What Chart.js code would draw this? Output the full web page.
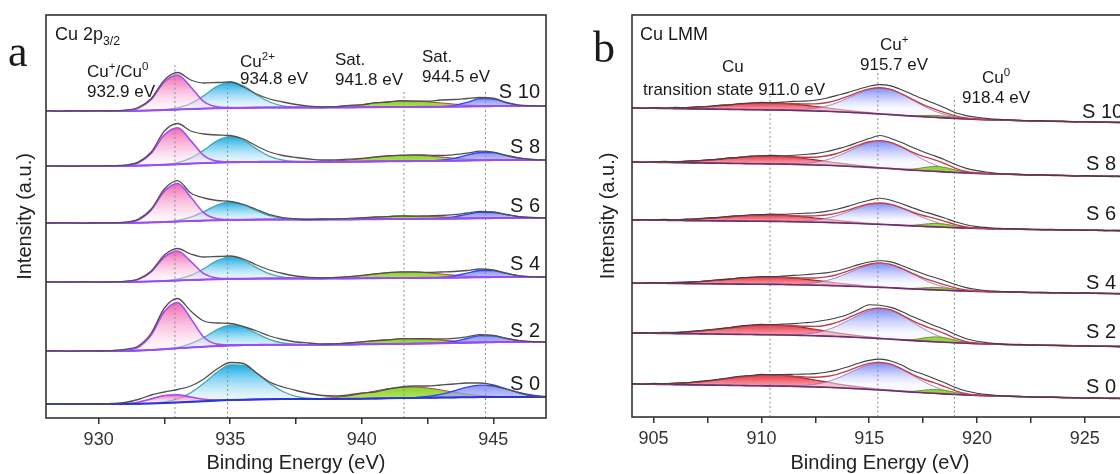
<!DOCTYPE html>
<html>
<head>
<meta charset="utf-8">
<script src="https://cdn.jsdelivr.net/npm/chart.js@4.4.1/dist/chart.umd.min.js"></script>
<style>
  html, body { margin: 0; padding: 0; background: #fff; overflow: hidden; width: 1120px; height: 474px; }
  #chartA { position: absolute; left: 0; top: 0; }
  #chartB { position: absolute; left: 560px; top: 0; }
</style>
</head>
<body>
<canvas id="chartA" width="560" height="474"></canvas>
<canvas id="chartB" width="580" height="474"></canvas>
<script>
// ---------- shared ----------
const samples = ['S 10', 'S 8', 'S 6', 'S 4', 'S 2', 'S 0'];

// ---------- panel a : Cu 2p3/2 ----------
const energyA = [928,928.5,929,929.5,930,930.5,931,931.5,932,932.5,933,933.5,934,934.5,935,935.5,936,936.5,937,937.5,938,938.5,939,939.5,940,940.5,941,941.5,942,942.5,943,943.5,944,944.5,945,945.5,946,946.5,947];
const tickValuesA = [930, 932.5, 935, 937.5, 940, 942.5, 945];
const offsetsA = [307, 252, 195, 136, 67, 14];
const markersA = [932.9, 934.9, 941.6, 944.7];
const markerTopsA = [355, 335, 328, 327];

const rawA_S10 = [0.3,-0.2,0.2,0,0.3,0.2,0.8,3.5,12.5,31,38.5,31,28,28.5,29,24,17,12,9,6.5,4.8,4.2,4.3,5.6,6.2,8.3,9,10.4,9.8,9.8,11,11.5,12.5,13.5,12.8,8.6,5.8,5.3,4.8];
const rawA_S8 = [0.2,0,-0.3,0.2,0.1,0.3,0.9,3.8,14,35,42.5,35,32,31,30.5,27,20,14,10.5,8.5,7,6,6.2,6.8,7.6,9.1,10.3,10.8,11.2,10.9,10.5,11.3,12.8,14.8,13.9,10.5,7.8,6.4,5.9];
const rawA_S6 = [-0.1,0.2,0.1,-0.2,0.2,0.1,0.8,3.6,14,34,42.3,30,25,22.5,21.5,18.5,13.5,8.3,5.4,4.2,3.4,4,3.8,4.7,5,6,6.4,7.2,6.8,7.2,7.5,8.4,10,11.6,11,8.4,6.2,5.5,4.9];
const rawA_S4 = [0.2,-0.1,0.1,0.3,-0.2,0.1,0.6,3,11,27,33.5,28,25,25.5,26,23,17,12,8.5,6,4.6,4.2,4.6,5.4,6.6,8.2,9.4,10.1,10.1,9.6,10,10.5,11.5,13,12,8.8,6.1,5.3,4.9];
const rawA_S2 = [0.3,0.1,-0.2,0.2,0,0.4,1.6,5,18,43,52.5,40,30,28,27.5,24.5,20,15,11.5,9,8,7,7.2,8,9.2,10.4,11.1,12.4,12.2,12.3,12,12.6,14.2,16.3,15.6,12.5,10.3,9.3,9.1];
const rawA_S0 = [0.3,-0.2,0.4,0,0.2,0.5,1.5,4.5,9,12,14.5,18,25,35,41.5,40.5,31,22,17,13.5,10.5,8.5,8,9,11,12,15,17,18,18,19,20,21,21,19,15,11,8,7];

const bgA_S10 = [0,0,0,0,0,0,0.1,0.3,0.6,1,1.5,2,2.4,2.8,3.1,3.3,3.4,3.5,3.5,3.5,3.5,3.5,3.6,3.6,3.7,3.8,3.9,4,4.1,4.2,4.3,4.4,4.6,4.8,4.9,5,5,5,5];
const bgA_S8 = [0,0,0,0,0,0,0.1,0.4,0.7,1.2,1.8,2.4,2.9,3.4,3.7,4,4.1,4.2,4.2,4.2,4.2,4.2,4.3,4.3,4.4,4.6,4.7,4.8,4.9,5,5.2,5.3,5.5,5.8,5.9,6,6,6,6];
const bgA_S6 = [0,0,0,0,0,0,0.1,0.3,0.6,1,1.5,2,2.4,2.8,3.1,3.3,3.4,3.5,3.5,3.5,3.5,3.5,3.6,3.6,3.7,3.8,3.9,4,4.1,4.2,4.3,4.4,4.6,4.8,4.9,5,5,5,5];
const bgA_S4 = [0,0,0,0,0,0,0.1,0.3,0.6,1,1.5,2,2.4,2.8,3.1,3.3,3.4,3.5,3.5,3.5,3.5,3.5,3.6,3.6,3.7,3.8,3.9,4,4.1,4.2,4.3,4.4,4.6,4.8,4.9,5,5,5,5];
const bgA_S2 = [0,0,0,0,0,0,0.2,0.5,1.1,1.8,2.7,3.6,4.3,5,5.6,5.9,6.1,6.3,6.3,6.3,6.3,6.3,6.5,6.5,6.7,6.8,7,7.2,7.4,7.6,7.7,7.9,8.3,8.6,8.8,9,9,9,9];
const bgA_S0 = [0,0,0,0,0,0,0.1,0.3,0.6,1,1.6,2.2,2.8,3.4,3.9,4.3,4.6,4.8,4.9,4.9,5,5,5.1,5.2,5.3,5.5,5.7,5.9,6.1,6.3,6.5,6.6,6.8,6.9,7,7,7,7,7];

// fitted components, heights above background, starting at the given energy
const pinkStartA = 930.5;
const pinkA_S10 = [0,0.4,2.5,11,28,34.5,22,7,1.4,0.4,0];
const pinkA_S8 = [0,0.4,2.6,12,30,36.5,23,7.4,1.5,0.4,0];
const pinkA_S6 = [0,0.4,2.7,12.4,30.8,38,24,7.7,1.5,0.4,0];
const pinkA_S4 = [0,0.3,2.1,9.6,24,29.5,18.6,6,1.2,0.3,0];
const pinkA_S2 = [0,0.5,3.3,15,37.6,45.8,29,9.4,1.9,0.5,0];
const pinkA_S0 = [0,0.3,1.5,4.5,7.5,7.6,4.8,2,0.6,0.1,0];

const cyanStartA = 932;
const cyanA_S10 = [0.05,0.35,1.6,5.5,13,21.8,26,21.8,13,5.5,1.6,0.35,0.05,0,0];
const cyanA_S8 = [0.05,0.35,1.6,5.5,13,21.8,26,21.8,13,5.5,1.6,0.35,0.05,0,0];
const cyanA_S6 = [0,0.25,1.1,3.8,9,15.1,18,15.1,9,3.8,1.1,0.25,0,0,0];
const cyanA_S4 = [0,0.3,1.4,4.6,11,18.5,22,18.5,11,4.6,1.4,0.3,0,0,0];
const cyanA_S2 = [0,0.2,1,3.7,9.3,16.3,20.3,18.2,11.6,5.1,1.7,0.4,0.05,0,0];
const cyanA_S0 = [0.25,1.1,3.5,9,18,28.4,35.3,34.5,26.5,15.8,7.6,2.8,0.8,0.2,0];

const greenStartA = 938;
const greenA_S10 = [0.15,0.4,0.8,1.6,2.7,4.1,5.3,5.9,5.9,5,3.8,2.5,1.4,0.7,0.3,0.1];
const greenA_S8 = [0.15,0.4,0.8,1.6,2.8,4.1,5.2,5.9,5.9,5.1,3.8,2.5,1.4,0.7,0.3,0.1];
const greenA_S6 = [0.1,0.2,0.4,0.8,1.4,2,2.6,3,2.9,2.5,1.9,1.2,0.7,0.4,0.2,0];
const greenA_S4 = [0.15,0.4,0.8,1.6,2.7,4.1,5.3,5.9,5.9,5,3.8,2.5,1.4,0.7,0.3,0.1];
const greenA_S2 = [0.1,0.3,0.7,1.4,2.3,3.4,4.4,4.9,4.9,4.2,3.2,2.1,1.2,0.6,0.3,0.1];
const greenA_S0 = [0.2,0.6,1.4,2.9,5,7.4,9.6,10.8,10.9,9.7,7.6,5.2,3.1,1.6,0.7,0.3];

const blueStartA = 942;
const blueA_S10 = [0,0,0.1,1,4,7.5,7.1,3.2,0.7,0.1,0];
const blueA_S8 = [0,0.1,0.7,2.3,5.3,7.7,7.4,4.6,1.9,0.5,0.1];
const blueA_S6 = [0,0.1,0.5,1.7,4,5.8,5.6,3.5,1.4,0.4,0];
const blueA_S4 = [0,0,0.3,1.6,4.2,6.7,6.4,3.6,1.2,0.2,0];
const blueA_S2 = [0,0,0.3,1.6,4.2,6.7,6.4,3.6,1.2,0.2,0];
const blueA_S0 = [0.3,1.2,3.1,6.4,10,12,11,7.8,4.3,1.8,0.6];

// ---------- panel b : Cu LMM ----------
const energyB = [904,904.5,905,905.5,906,906.5,907,907.5,908,908.5,909,909.5,910,910.5,911,911.5,912,912.5,913,913.5,914,914.5,915,915.5,916,916.5,917,917.5,918,918.5,919,919.5,920,920.5,921,921.5,922,922.5,923,923.5,924,924.5,925,925.5,926,926.5,927,927.5,928];
const tickValuesB = [905, 907.5, 910, 912.5, 915, 917.5, 920, 922.5, 925];
const offsetsB = [309, 255, 197, 134, 84, 33];
const markersB = [910.4, 915.4, 918.95];
const markerTopsB = [322, 345, 320];

const rawB_S10 = [0.3,-0.4,0.4,-0.2,0.6,0.3,1.2,1.3,2.8,3,4.5,4.9,5.6,5.3,5.9,6.6,6.9,7.8,9.8,12.6,15.4,18.8,21.8,23.4,22.1,18.3,13.5,8.9,4.8,0.2,-4.8,-7.6,-9.3,-10.6,-11.4,-11.9,-12.2,-12.8,-12.6,-13.4,-13.1,-13.9,-13.5,-14.3,-14,-14.6,-14.3,-15.1,-14.8];
const rawB_S8 = [0.4,-0.5,0.3,0.6,0.1,0.9,1.3,2.2,2.7,4.1,4.6,5.9,6.3,6.6,6.2,6.8,7.5,8.4,10.3,13,16,19.8,23.5,26.5,23.6,19.4,14.8,10.2,6.4,2.3,-2.6,-6.4,-8.6,-10.2,-11.5,-12.1,-12.2,-13,-12.8,-13.6,-13.3,-14.1,-13.6,-14.2,-14.4,-14.3,-14.9,-14.7,-15.2];
const rawB_S6 = [-0.2,0.5,0.1,0.6,0.2,0.9,1.1,2.1,2.6,3.8,4.3,5.2,5.4,5.9,5.6,6.2,6.7,7.3,8.6,10.8,13.6,17,19.8,21.7,19.8,16.2,12.3,8.6,5.4,1.9,-1.8,-4.8,-6.6,-7.6,-8.4,-8.6,-9.1,-9.2,-9.8,-9.4,-10,-9.8,-10.4,-10.1,-10.6,-10.4,-10.9,-10.7,-11.1];
const rawB_S4 = [0.3,-0.3,0.5,0.1,0.8,0.6,1.5,2.1,3.3,3.9,5.2,5.6,6.5,6.4,6.9,7.6,8.3,9.2,10.1,12,15,18.4,21,22.3,21.1,17.6,13.2,9.3,5.7,2.3,-1.6,-4.6,-6.5,-7.8,-8.3,-8.9,-8.8,-9.6,-9.3,-9.9,-9.6,-10.2,-9.9,-10.5,-10.3,-10.8,-10.5,-11.1,-10.9];
const rawB_S2 = [-0.3,0.4,0.2,0.7,0.4,1.3,2.1,3.2,4.3,5.3,6.9,7.8,8.6,8.5,8.9,9.4,10.2,11.2,13,15.3,18.6,23.4,28.3,27.7,25.6,21.6,16.4,12,7.6,3.4,-1.6,-5.7,-8.3,-9.8,-10.9,-11.6,-11.4,-12.1,-12.3,-12.7,-12.4,-13,-12.8,-13.5,-13.2,-13.9,-13.5,-14,-14.2];
const rawB_S0 = [0.4,-0.3,0.6,0.3,1,1.4,2.5,3.4,4.8,6.2,7.8,8.5,9.6,9.4,9.5,9.7,9.9,10.4,11.8,13.9,17.1,20.8,23.6,24.9,23,18.9,13.5,9.8,5.6,1.2,-3.5,-7,-9.2,-10.6,-11.5,-12.4,-12.3,-13,-13.4,-13.1,-13.9,-13.6,-14.2,-13.9,-14.5,-14.3,-14.8,-14.6,-15.2];

const bgB_S10 = [0,-0.2,-0.3,-0.5,-0.6,-0.8,-0.9,-1.1,-1.2,-1.4,-1.5,-1.7,-1.8,-2,-2.1,-2.4,-2.7,-3,-3.3,-3.8,-4.2,-4.8,-5.4,-6,-6.6,-7.4,-8.1,-8.7,-9.3,-9.9,-10.5,-11,-11.4,-11.7,-12,-12.3,-12.6,-12.9,-13.1,-13.2,-13.5,-13.7,-13.8,-14.1,-14.3,-14.4,-14.6,-14.9,-15];
const bgB_S8 = [0,-0.2,-0.3,-0.5,-0.6,-0.8,-0.9,-1.1,-1.2,-1.4,-1.5,-1.7,-1.8,-2,-2.1,-2.4,-2.7,-3,-3.3,-3.8,-4.2,-4.8,-5.4,-6,-6.6,-7.4,-8.1,-8.7,-9.3,-9.9,-10.5,-11,-11.4,-11.7,-12,-12.3,-12.6,-12.9,-13.1,-13.2,-13.5,-13.7,-13.8,-14.1,-14.3,-14.4,-14.6,-14.9,-15];
const bgB_S6 = [0,-0.1,-0.2,-0.3,-0.4,-0.6,-0.7,-0.8,-0.9,-1,-1.1,-1.2,-1.3,-1.4,-1.5,-1.8,-2,-2.2,-2.4,-2.8,-3.1,-3.5,-4,-4.4,-4.8,-5.4,-5.9,-6.4,-6.8,-7.3,-7.7,-8,-8.4,-8.6,-8.8,-9,-9.2,-9.5,-9.6,-9.7,-9.9,-10,-10.1,-10.3,-10.5,-10.6,-10.7,-10.9,-11];
const bgB_S4 = [0,-0.1,-0.2,-0.3,-0.4,-0.6,-0.7,-0.8,-0.9,-1,-1.1,-1.2,-1.3,-1.4,-1.5,-1.8,-2,-2.2,-2.4,-2.8,-3.1,-3.5,-4,-4.4,-4.8,-5.4,-5.9,-6.4,-6.8,-7.3,-7.7,-8,-8.4,-8.6,-8.8,-9,-9.2,-9.5,-9.6,-9.7,-9.9,-10,-10.1,-10.3,-10.5,-10.6,-10.7,-10.9,-11];
const bgB_S2 = [0,-0.1,-0.3,-0.4,-0.6,-0.7,-0.8,-1,-1.1,-1.3,-1.4,-1.5,-1.7,-1.8,-2,-2.2,-2.5,-2.8,-3.1,-3.5,-3.9,-4.5,-5,-5.6,-6.2,-6.9,-7.6,-8.1,-8.7,-9.2,-9.8,-10.2,-10.6,-10.9,-11.2,-11.5,-11.8,-12,-12.2,-12.3,-12.6,-12.7,-12.9,-13.2,-13.3,-13.4,-13.6,-13.9,-14];
const bgB_S0 = [0,-0.2,-0.3,-0.5,-0.6,-0.8,-0.9,-1.1,-1.2,-1.4,-1.5,-1.7,-1.8,-2,-2.1,-2.4,-2.7,-3,-3.3,-3.8,-4.2,-4.8,-5.4,-6,-6.6,-7.4,-8.1,-8.7,-9.3,-9.9,-10.5,-11,-11.4,-11.7,-12,-12.3,-12.6,-12.9,-13.1,-13.2,-13.5,-13.7,-13.8,-14.1,-14.3,-14.4,-14.6,-14.9,-15];

const redStartB = 904;
const redB_S10 = [0.1,0.1,0.2,0.4,0.7,1.2,1.8,2.6,3.5,4.5,5.5,6.3,6.8,7,6.8,6.3,5.5,4.5,3.5,2.6,1.8,1.2,0.7,0.4,0.2,0.1,0.1,0,0];
const redB_S8 = [0.1,0.1,0.3,0.5,0.8,1.4,2.1,2.9,4,5.1,6.2,7.2,7.8,8,7.8,7.2,6.2,5.1,4,2.9,2.1,1.4,0.8,0.5,0.3,0.1,0.1,0,0];
const redB_S6 = [0.1,0.1,0.2,0.4,0.7,1.1,1.7,2.4,3.3,4.2,5.1,5.8,6.3,6.5,6.3,5.8,5.1,4.2,3.3,2.4,1.7,1.1,0.7,0.4,0.2,0.1,0.1,0,0];
const redB_S4 = [0.1,0.1,0.3,0.5,0.8,1.3,1.9,2.8,3.8,4.8,5.9,6.7,7.3,7.5,7.3,6.7,5.9,4.8,3.8,2.8,1.9,1.3,0.8,0.5,0.3,0.1,0.1,0,0];
const redB_S2 = [0.1,0.2,0.4,0.6,1.1,1.7,2.6,3.7,5,6.4,7.8,9,9.7,10,9.7,9,7.8,6.4,5,3.7,2.6,1.7,1.1,0.6,0.4,0.2,0.1,0,0];
const redB_S0 = [0.1,0.2,0.4,0.7,1.2,1.9,2.8,4,5.5,7,8.6,9.8,10.7,11,10.7,9.8,8.6,7,5.5,4,2.8,1.9,1.2,0.7,0.4,0.2,0.1,0,0];

const blueStartB = 911.5;
const blueB_S10 = [0.5,1.2,2.6,5.1,9,14,19.4,23.8,25.9,25,21.4,16.3,10.9,6.5,3.5,1.6,0.7,0.3,0.1];
const blueB_S8 = [0.5,1.2,2.7,5.3,9.4,14.6,20.2,24.8,26.9,26,22.2,16.9,11.3,6.8,3.6,1.7,0.7,0.3,0.1];
const blueB_S6 = [0.4,0.9,2.1,4.1,7.3,11.3,15.7,19.3,21,20.2,17.3,13.1,8.8,5.3,2.8,1.3,0.5,0.2,0.1];
const blueB_S4 = [0.4,1.1,2.4,4.7,8.3,13,18,22,24,23.1,19.8,15,10.1,6,3.2,1.5,0.6,0.2,0.1];
const blueB_S2 = [0.5,1.4,3,5.9,10.4,16.2,22.4,27.5,29.9,28.9,24.7,18.8,12.6,7.5,4,1.9,0.8,0.3,0.1];
const blueB_S0 = [0.5,1.2,2.7,5.3,9.4,14.6,20.2,24.8,26.9,26,22.2,16.9,11.3,6.8,3.6,1.7,0.7,0.3,0.1];

const greenStartB = 916;
const greenB_S10 = [0,0.1,0.4,1.2,1.9,1.8,1,0.3,0.1,0];
const greenB_S8 = [0,0.2,1,3,4.8,4.6,2.5,0.8,0.2,0];
const greenB_S6 = [0,0.2,0.7,2.1,3.4,3.2,1.8,0.6,0.1,0];
const greenB_S4 = [0,0.1,0.5,1.5,2.4,2.3,1.3,0.4,0.1,0];
const greenB_S2 = [0,0.2,1,3,4.8,4.6,2.5,0.8,0.2,0];
const greenB_S0 = [0,0.2,0.8,2.4,3.8,3.6,2,0.6,0.1,0];

const rawA = [rawA_S10, rawA_S8, rawA_S6, rawA_S4, rawA_S2, rawA_S0];
const bgA = [bgA_S10, bgA_S8, bgA_S6, bgA_S4, bgA_S2, bgA_S0];
const pinkA = [pinkA_S10, pinkA_S8, pinkA_S6, pinkA_S4, pinkA_S2, pinkA_S0];
const cyanA = [cyanA_S10, cyanA_S8, cyanA_S6, cyanA_S4, cyanA_S2, cyanA_S0];
const greenA = [greenA_S10, greenA_S8, greenA_S6, greenA_S4, greenA_S2, greenA_S0];
const blueA = [blueA_S10, blueA_S8, blueA_S6, blueA_S4, blueA_S2, blueA_S0];

const rawB = [rawB_S10, rawB_S8, rawB_S6, rawB_S4, rawB_S2, rawB_S0];
const bgB = [bgB_S10, bgB_S8, bgB_S6, bgB_S4, bgB_S2, bgB_S0];
const redB = [redB_S10, redB_S8, redB_S6, redB_S4, redB_S2, redB_S0];
const blueB = [blueB_S10, blueB_S8, blueB_S6, blueB_S4, blueB_S2, blueB_S0];
const greenB = [greenB_S10, greenB_S8, greenB_S6, greenB_S4, greenB_S2, greenB_S0];

// ---------- helpers ----------
const FONT = '"Liberation Sans", Arial, sans-serif';

function pad(values, grid, start) {
    const i0 = grid.indexOf(start);
    return grid.map((e, i) => (i >= i0 && i < i0 + values.length) ? values[i - i0] : 0);
}

function pts(grid, off, ...layers) {
    return grid.map((e, i) => ({ x: e, y: off + layers.reduce((s, l) => s + l[i], 0) }));
}

function vGrad(topColor, bottomColor) {
    return (c) => {
        const chart = c.chart;
        if (!chart.chartArea || !c.dataset || !chart.scales.y) return topColor;
        const y = chart.scales.y;
        const peak = Math.max(...c.dataset.data.map(p => p.y));
        const top = y.getPixelForValue(peak);
        const bottom = y.getPixelForValue(c.dataset.base);
        if (!(bottom > top + 1)) return topColor;
        const g = chart.ctx.createLinearGradient(0, top, 0, bottom);
        g.addColorStop(0, topColor);
        g.addColorStop(1, bottomColor);
        return g;
    };
}

function component(grid, off, bg, comp, baseIdx, topColor, bottomColor, lineColor, lineWidth, order) {
    return {
        data: pts(grid, off, bg, comp),
        base: off,
        fill: baseIdx,
        backgroundColor: vGrad(topColor, bottomColor),
        borderColor: lineColor,
        borderWidth: lineWidth,
        order: order
    };
}

function markerSet(e, top) {
    return {
        data: [{ x: e, y: 0 }, { x: e, y: top }],
        borderColor: '#8a8a8a',
        borderWidth: 1,
        borderDash: [2, 2.5],
        cubicInterpolationMode: 'default',
        tension: 0,
        order: 3
    };
}

function drawRich(ctx, x, y, parts, size, align) {
    const segs = parts.map(p => typeof p === 'string' ? { t: p, k: '' } : p);
    const fontOf = k => (k ? size * 0.68 : size) + 'px ' + FONT;
    let w = 0;
    segs.forEach(s => { ctx.font = fontOf(s.k); w += ctx.measureText(s.t).width; });
    let cx = align === 'right' ? x - w : (align === 'center' ? x - w / 2 : x);
    segs.forEach(s => {
        ctx.font = fontOf(s.k);
        const dy = s.k === 'sup' ? -size * 0.42 : (s.k === 'sub' ? size * 0.3 : 0);
        ctx.fillText(s.t, cx, y + dy);
        cx += ctx.measureText(s.t).width;
    });
}

function textPlugin(letter, items) {
    return {
        id: 'texts',
        afterDraw(chart) {
            const ctx = chart.ctx;
            ctx.save();
            ctx.fillStyle = '#1a1a1a';
            ctx.textBaseline = 'alphabetic';
            ctx.textAlign = 'left';
            ctx.font = '44px "Liberation Serif", "Times New Roman", serif';
            ctx.fillText(letter.t, letter.x, letter.y);
            items.forEach(it => drawRich(ctx, it.x, it.y, it.parts, it.size, it.align));
            ctx.restore();
        }
    };
}

const framePlugin = {
    id: 'frame',
    afterDraw(chart) {
        const { ctx, chartArea: a } = chart;
        ctx.save();
        ctx.strokeStyle = '#333';
        ctx.lineWidth = 1.6;
        ctx.strokeRect(a.left, a.top, a.right - a.left, a.bottom - a.top);
        ctx.restore();
    }
};

function panelOptions(p) {
    return {
        responsive: false,
        animation: false,
        layout: { padding: { left: 0, right: p.padRight, top: 15, bottom: 0 } },
        elements: {
            point: { radius: 0, hitRadius: 0 },
            line: { cubicInterpolationMode: 'monotone', borderWidth: 1, fill: false }
        },
        plugins: { legend: { display: false }, tooltip: { enabled: false } },
        scales: {
            x: {
                type: 'linear',
                min: p.min,
                max: p.max,
                afterBuildTicks: sc => { sc.ticks = p.ticks.map(v => ({ value: v })); },
                afterFit: sc => { sc.height = p.xHeight; },
                ticks: {
                    callback: v => (v % 5 === 0 ? String(v) : ''),
                    font: { size: 18, family: FONT },
                    color: '#333',
                    padding: 5,
                    maxRotation: 0,
                    autoSkip: false
                },
                grid: { drawOnChartArea: false, drawTicks: true, tickLength: 6, color: '#333', lineWidth: 1.5 },
                border: { display: false },
                title: {
                    display: true,
                    text: 'Binding Energy (eV)',
                    color: '#222',
                    font: { size: 20, family: FONT, lineHeight: 1 },
                    padding: { top: 0, bottom: 1 }
                }
            },
            y: {
                min: 0,
                max: p.yMax,
                afterFit: sc => { sc.width = p.yWidth; },
                ticks: { display: false },
                grid: { display: false },
                border: { display: false },
                title: {
                    display: true,
                    text: 'Intensity (a.u.)',
                    color: '#222',
                    font: { size: 20, family: FONT, lineHeight: 1 },
                    padding: { top: p.yTitlePad, bottom: 0 }
                }
            }
        }
    };
}

// ---------- build panel a ----------
const datasetsA = [];
markersA.forEach((e, i) => datasetsA.push(markerSet(e, markerTopsA[i])));
samples.forEach((s, k) => {
    const off = offsetsA[k];
    const bg = bgA[k];
    const baseIdx = datasetsA.length;
    datasetsA.push({
        data: pts(energyA, off, bg),
        borderColor: k === 5 ? '#2a36d8' : '#9a4cf5',
        borderWidth: 2,
        order: 2
    });
    datasetsA.push(component(energyA, off, bg, pad(cyanA[k], energyA, cyanStartA), baseIdx,
        'rgba(10,165,228,0.95)', 'rgba(235,248,255,0.3)', '#4aa7a9', 1.3, 6));
    datasetsA.push(component(energyA, off, bg, pad(pinkA[k], energyA, pinkStartA), baseIdx,
        'rgba(238,85,168,0.9)', 'rgba(255,240,250,0.3)', '#a64bf4', 1.6, 5));
    datasetsA.push(component(energyA, off, bg, pad(greenA[k], energyA, greenStartA), baseIdx,
        'rgba(125,208,35,0.95)', 'rgba(200,235,95,0.9)', '#b34a35', 1, 6));
    datasetsA.push(component(energyA, off, bg, pad(blueA[k], energyA, blueStartA), baseIdx,
        'rgba(105,120,240,0.8)', 'rgba(200,206,255,0.6)', '#3143ff', 1.3, 5));
    datasetsA.push({
        data: pts(energyA, off, rawA[k]),
        borderColor: '#505050',
        borderWidth: 1.3,
        order: 0
    });
});

const textsA = [
    { x: 55, y: 40, parts: ['Cu 2p', { t: '3/2', k: 'sub' }], size: 18 },
    { x: 87, y: 77, parts: ['Cu', { t: '+', k: 'sup' }, '/Cu', { t: '0', k: 'sup' }], size: 17 },
    { x: 87, y: 97, parts: ['932.9 eV'], size: 17 },
    { x: 240, y: 67, parts: ['Cu', { t: '2+', k: 'sup' }], size: 17 },
    { x: 240, y: 84, parts: ['934.8 eV'], size: 17 },
    { x: 335, y: 65, parts: ['Sat.'], size: 17 },
    { x: 335, y: 85, parts: ['941.8 eV'], size: 17 },
    { x: 422, y: 62, parts: ['Sat.'], size: 17 },
    { x: 422, y: 82, parts: ['944.5 eV'], size: 17 }
];
const labelYA = [98, 153, 212, 270, 337, 390];
samples.forEach((s, k) => textsA.push({ x: 540, y: labelYA[k], parts: [s], size: 20, align: 'right' }));

new Chart(document.getElementById('chartA'), {
    type: 'line',
    data: { datasets: datasetsA },
    options: panelOptions({ min: 928, max: 947, ticks: tickValuesA, yMax: 403, yWidth: 46, xHeight: 56, yTitlePad: 15, padRight: 14 }),
    plugins: [framePlugin, textPlugin({ t: 'a', x: 8, y: 66 }, textsA)]
});

// ---------- build panel b ----------
const datasetsB = [];
markersB.forEach((e, i) => datasetsB.push(markerSet(e, markerTopsB[i])));
samples.forEach((s, k) => {
    const off = offsetsB[k];
    const bg = bgB[k];
    const red = pad(redB[k], energyB, redStartB);
    const blue = pad(blueB[k], energyB, blueStartB);
    const green = pad(greenB[k], energyB, greenStartB);
    const baseIdx = datasetsB.length;
    datasetsB.push({
        data: pts(energyB, off, bg),
        borderColor: '#6e2c74',
        borderWidth: 1.6,
        order: 2
    });
    datasetsB.push(component(energyB, off, bg, red, baseIdx,
        'rgba(232,50,65,0.97)', 'rgba(244,135,148,0.95)', '#a82636', 1.2, 6));
    datasetsB.push(component(energyB, off, bg, blue, baseIdx,
        'rgba(112,128,248,0.9)', 'rgba(242,242,255,0.5)', 'rgba(150,110,170,0.8)', 1, 5));
    datasetsB.push(component(energyB, off, bg, green, baseIdx,
        'rgba(140,215,50,0.95)', 'rgba(190,232,110,0.9)', '#7a8f3a', 1, 4));
    datasetsB.push({
        data: pts(energyB, off, bg, red, blue, green),
        borderColor: '#c0404a',
        borderWidth: 1.4,
        order: 1
    });
    datasetsB.push({
        data: pts(energyB, off, rawB[k]),
        borderColor: '#404040',
        borderWidth: 1.1,
        order: 0
    });
});

const textsB = [
    { x: 80, y: 40, parts: ['Cu LMM'], size: 18 },
    { x: 162, y: 72, parts: ['Cu'], size: 17 },
    { x: 83, y: 95, parts: ['transition state 911.0 eV'], size: 17 },
    { x: 320, y: 50, parts: ['Cu', { t: '+', k: 'sup' }], size: 17 },
    { x: 300, y: 70, parts: ['915.7 eV'], size: 17 },
    { x: 422, y: 83, parts: ['Cu', { t: '0', k: 'sup' }], size: 17 },
    { x: 402, y: 103, parts: ['918.4 eV'], size: 17 }
];
const labelYB = [118, 170, 220, 289, 338, 393];
const labelXB = [522, 526, 526, 526, 526, 526];
samples.forEach((s, k) => textsB.push({ x: labelXB[k], y: labelYB[k], parts: [s], size: 20 }));

new Chart(document.getElementById('chartB'), {
    type: 'line',
    data: { datasets: datasetsB },
    options: panelOptions({ min: 904, max: 927, ticks: tickValuesB, yMax: 402, yWidth: 72, xHeight: 57, yTitlePad: 38, padRight: 12 }),
    plugins: [framePlugin, textPlugin({ t: 'b', x: 33, y: 62 }, textsB)]
});
</script>
</body>
</html>
